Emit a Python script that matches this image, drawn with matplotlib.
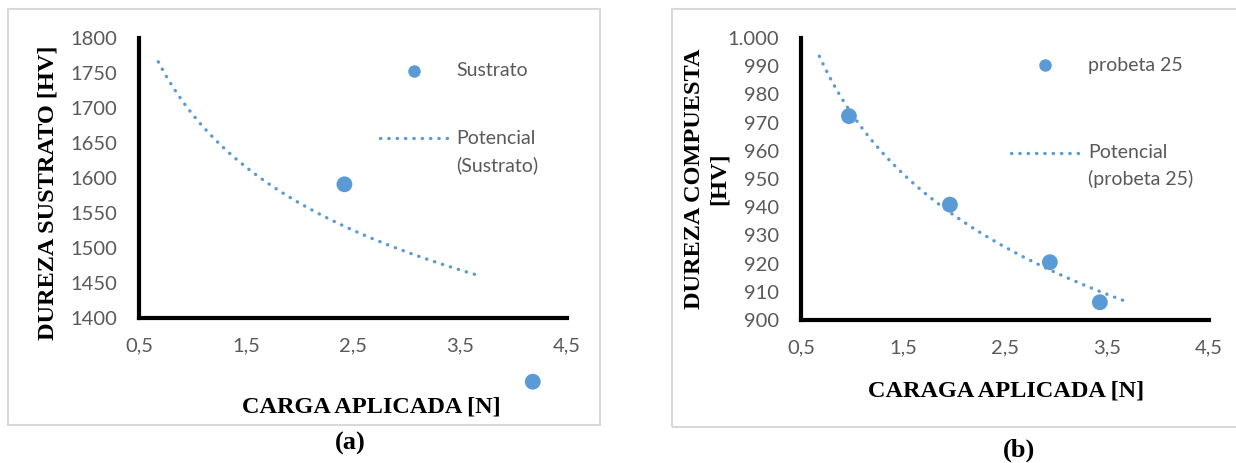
import matplotlib.pyplot as plt
import matplotlib.patches as patches
from matplotlib.ticker import FuncFormatter
import numpy as np

# ---- values
carga_a = [2.42, 4.18]
dureza_a = [1591, 1309]
carga_b = [0.97, 1.96, 2.94, 3.43]
dureza_b = [972.3, 940.9, 920.5, 906.3]

# ---- power trendlines ("Potencial") y = k * x^n, coefficients
trend_a = {'k': 1691.0, 'n': -0.1125}
trend_b = {'k': 973.0, 'n': -0.0542}
trend_xmin = 0.68
trend_xmax = 3.69

x_ticks = [0.5, 1.5, 2.5, 3.5, 4.5]
y_ticks_a = [1400, 1450, 1500, 1550, 1600, 1650, 1700, 1750, 1800]
y_ticks_b = [900, 910, 920, 930, 940, 950, 960, 970, 980, 990, 1000]

BLUE = '#5B9BD5'
GREY = '#595959'
TICKFONT = 'Lato'
SERIF = 'Liberation Serif'
DOTS = (0, (0.1, 2.4))


def fmt_dec(v, pos=None):
        # decimal comma
        return ('%.1f' % v).replace('.', ',')


def fmt_plain(v, pos=None):
        return str(int(round(v)))


def fmt_thousands(v, pos=None):
        return '{:,}'.format(int(round(v))).replace(',', '.')


def setupAxes(ax, yticks, yfmt):
        ax.set_xlim(x_ticks[0], x_ticks[-1])
        ax.set_ylim(yticks[0], yticks[-1])
        ax.set_xticks(x_ticks)
        ax.set_yticks(yticks)
        ax.xaxis.set_major_formatter(FuncFormatter(fmt_dec))
        ax.yaxis.set_major_formatter(FuncFormatter(yfmt))
        for s in ['top', 'right']:
                ax.spines[s].set_visible(False)
        for s in ['left', 'bottom']:
                ax.spines[s].set_linewidth(3)
                ax.spines[s].set_color('black')
                ax.spines[s].set_capstyle('projecting')
        ax.tick_params(axis='x', length=0, pad=14, labelsize=14.5, labelcolor=GREY)
        ax.tick_params(axis='y', length=0, pad=15.5, labelsize=14.5, labelcolor=GREY)
        for lab in ax.get_xticklabels() + ax.get_yticklabels():
                lab.set_fontfamily(TICKFONT)
        ax.patch.set_alpha(0)


def drawPanel(ax, xs, ys, trend, yticks, yfmt):
        setupAxes(ax, yticks, yfmt)
        tx = np.linspace(trend_xmin, trend_xmax, 200)
        ty = trend['k'] * tx ** trend['n']
        ax.plot(tx, ty, color=BLUE, linewidth=2.4, linestyle=DOTS,
                dash_capstyle='round', clip_on=False, zorder=2)
        ax.scatter(xs, ys, s=130, color=BLUE, edgecolors='none', clip_on=False, zorder=3)


def drawLegend(ax, mk, txt_x, line_x, line_y, label1, label2, label3):
        # ---- hand-made legend, positions in axes fraction
        ax.plot([mk[0]], [mk[1]], 'o', color=BLUE, markersize=9, markeredgewidth=0,
                transform=ax.transAxes, clip_on=False)
        ax.text(txt_x, mk[1], label1, transform=ax.transAxes, va='center', ha='left',
                fontsize=14, color=GREY, fontfamily=TICKFONT)
        ax.plot(line_x, [line_y[0], line_y[0]], color=BLUE, linewidth=2.4,
                linestyle=DOTS, dash_capstyle='round',
                transform=ax.transAxes, clip_on=False)
        ax.text(txt_x, line_y[0], label2, transform=ax.transAxes, va='center', ha='left',
                fontsize=14, color=GREY, fontfamily=TICKFONT)
        ax.text(txt_x, line_y[1], label3, transform=ax.transAxes, va='center', ha='left',
                fontsize=14, color=GREY, fontfamily=TICKFONT)


W, H = 1236, 463
fig = plt.figure(figsize=(W / 100, H / 100), dpi=100)
fig.patch.set_facecolor('white')


def px(x0, y_top, x1, y_bot):
        return [x0 / W, 1 - y_bot / H, (x1 - x0) / W, (y_bot - y_top) / H]


def axfrac(ax_box, x, y):
        # pixel position -> axes fraction for a box given in pixels
        x0, yt, x1, yb = ax_box
        return (x - x0) / (x1 - x0), (yb - y) / (yb - yt)


# ---- outer frames
fig.patches.append(patches.Rectangle((8 / W, 1 - 425 / H), 592 / W, 416 / H,
                   transform=fig.transFigure, fill=False, edgecolor='#D9D9D9', linewidth=1.5))
fig.patches.append(patches.Rectangle((672 / W, 1 - 427 / H), 580 / W, 418 / H,
                   transform=fig.transFigure, fill=False, edgecolor='#D9D9D9', linewidth=1.5))

# ---- panel (a)
boxA = (139, 38, 567, 318)
axA = fig.add_axes(px(*boxA))
drawPanel(axA, carga_a, dureza_a, trend_a, y_ticks_a, fmt_plain)
mk = axfrac(boxA, 414, 71)
l0 = axfrac(boxA, 380, 138)
l1 = axfrac(boxA, 448, 165)
tx = axfrac(boxA, 456, 0)[0]
drawLegend(axA, mk, tx, [l0[0], l1[0]], [l0[1], l1[1]],
           'Sustrato', 'Potencial', '(Sustrato)')
fig.text(48 / W, 1 - 193 / H, 'DUREZA SUSTRATO [HV]', rotation=90, ha='center', va='center',
         fontsize=17.5, fontweight='bold', fontfamily=SERIF)
fig.text(371 / W, 1 - 412 / H, 'CARGA APLICADA [N]', ha='center', va='baseline',
         fontsize=17.5, fontweight='bold', fontfamily=SERIF)
fig.text(350 / W, 1 - 450 / H, '(a)', ha='center', va='baseline',
         fontsize=19, fontweight='bold', fontfamily=SERIF)

# ---- panel (b)
boxB = (801, 38, 1209, 320)
axB = fig.add_axes(px(*boxB))
drawPanel(axB, carga_b, dureza_b, trend_b, y_ticks_b, fmt_thousands)
mk = axfrac(boxB, 1045, 65)
l0 = axfrac(boxB, 1011, 153)
l1 = axfrac(boxB, 1080, 179)
tx = axfrac(boxB, 1088, 0)[0]
drawLegend(axB, mk, tx, [l0[0], l1[0]], [l0[1], l1[1]],
           'probeta 25', 'Potencial', '(probeta 25)')
fig.text(707 / W, 1 - 179 / H, 'DUREZA COMPUESTA\n[HV]', rotation=90, ha='center', va='center',
         multialignment='center', linespacing=1.25,
         fontsize=17.5, fontweight='bold', fontfamily=SERIF)
fig.text(1006 / W, 1 - 396 / H, 'CARAGA APLICADA [N]', ha='center', va='baseline',
         fontsize=17.5, fontweight='bold', fontfamily=SERIF)
fig.text(1019 / W, 1 - 457 / H, '(b)', ha='center', va='baseline',
         fontsize=19, fontweight='bold', fontfamily=SERIF)

plt.savefig('out.png', dpi=100)
